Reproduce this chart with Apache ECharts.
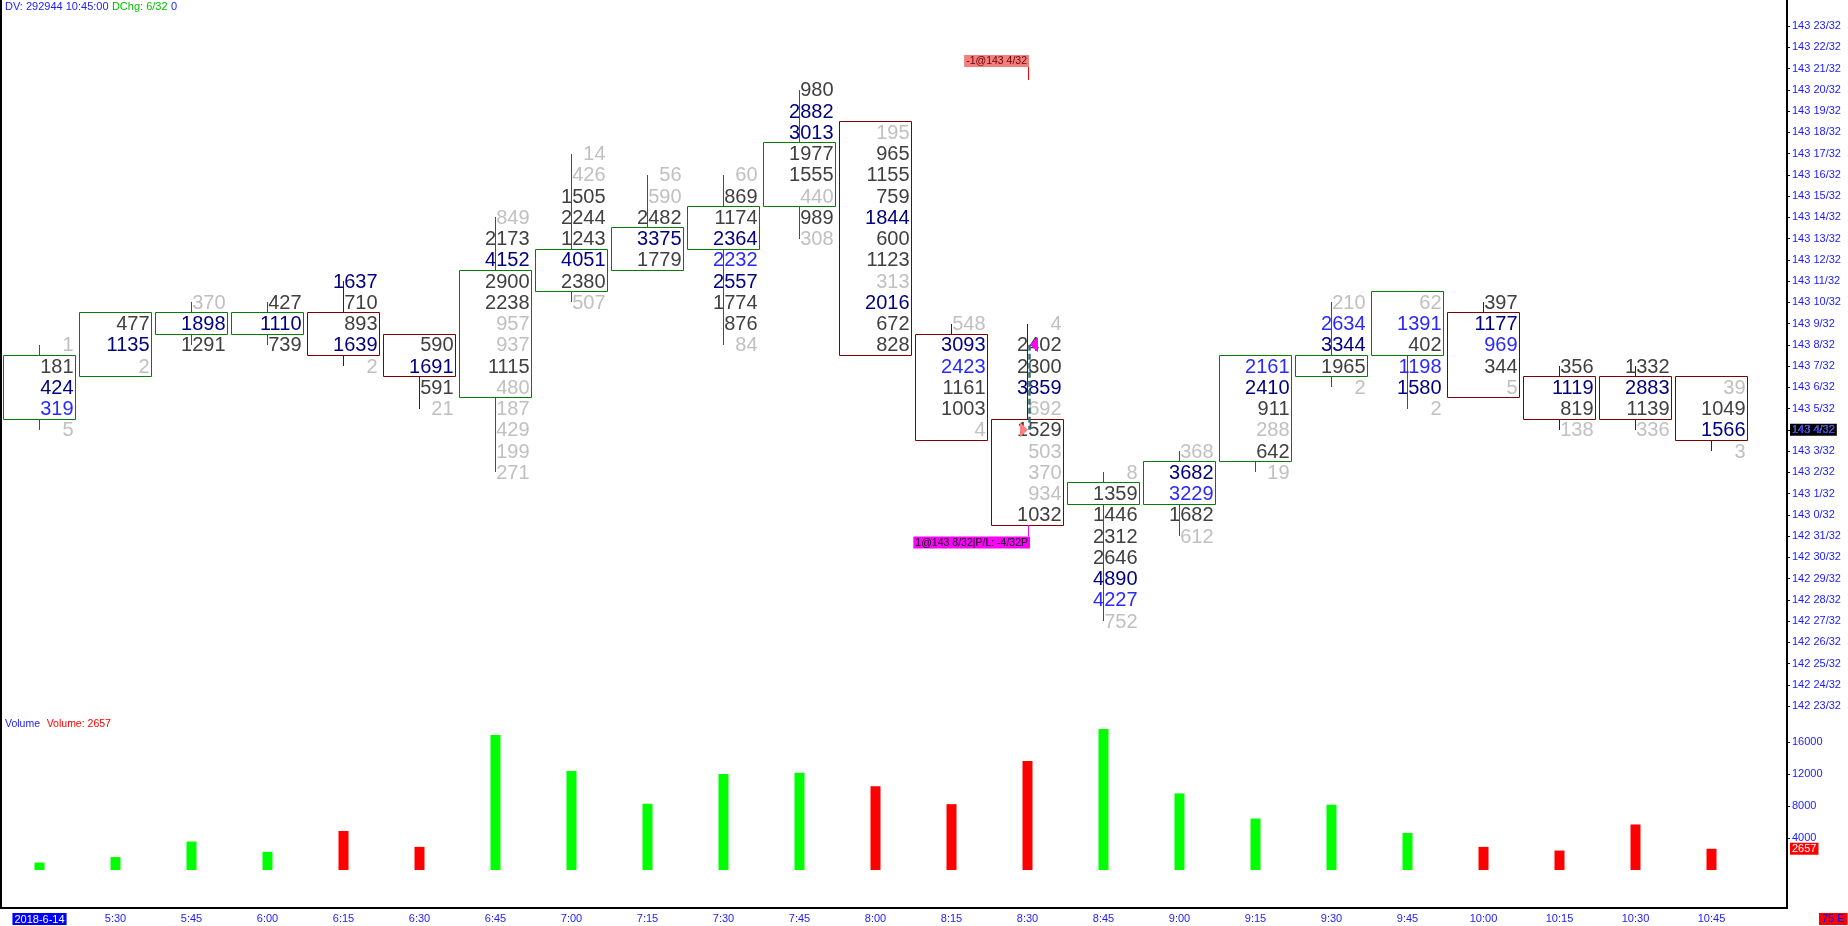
<!DOCTYPE html>
<html><head><meta charset="utf-8">
<script src="https://cdn.jsdelivr.net/npm/echarts@6/dist/echarts.min.js"></script>
<style>html,body{margin:0;padding:0;background:#fff;}#c{width:1848px;height:926px;}</style>
</head><body><div id="c"></div>
<script>
// ---------- DATA ----------
const times = ['2018-6-14','5:30','5:45','6:00','6:15','6:30','6:45','7:00','7:15','7:30','7:45','8:00',
  '8:15','8:30','8:45','9:00','9:15','9:30','9:45','10:00','10:15','10:30','10:45'];
// prices in 32nds above 143 0/32
const opens  = [5,7,9,9,9,8,6,11,12,13,15,18,8,4,1,1,3,7,8,9,6,6,6];
const closes = [7,9,9,9,8,7,11,12,13,14,17,8,4,0,1,2,7,7,10,6,5,5,4];
const highs  = [8,9,10,10,11,8,14,17,16,16,20,18,9,9,2,3,7,10,10,10,7,7,6];
const lows   = [4,7,8,8,7,5,2,10,12,8,13,8,4,0,-5,-1,2,6,5,6,4,4,3];
// footprint volume per price level, from the high down to the low
const footVols = [
  [1,181,424,319,5],
  [477,1135,2],
  [370,1898,1291],
  [427,1110,739],
  [1637,710,893,1639,2],
  [590,1691,591,21],
  [849,2173,4152,2900,2238,957,937,1115,480,187,429,199,271],
  [14,426,1505,2244,1243,4051,2380,507],
  [56,590,2482,3375,1779],
  [60,869,1174,2364,2232,2557,1774,876,84],
  [980,2882,3013,1977,1555,440,989,308],
  [195,965,1155,759,1844,600,1123,313,2016,672,828],
  [548,3093,2423,1161,1003,4],
  [4,2402,2300,3859,692,1529,503,370,934,1032],
  [8,1359,1446,2312,2646,4890,4227,752],
  [368,3682,3229,1682,612],
  [2161,2410,911,288,642,19],
  [210,2634,3344,1965,2],
  [62,1391,402,1198,1580,2],
  [397,1177,969,344,5],
  [356,1119,819,138],
  [1332,2883,1139,336],
  [39,1049,1566,3]
];
// colour class of each footprint number: g = grey, k = dark grey, n = navy, b = blue
const footCls = ['gknbg','kng','gnk','knk','nkkng','knkg','gknkkggkggggg','ggkkknkg','ggknk','gkknbnkkg',
  'knnkkgkg','gkkknkkgnkk','gnbkkg','gkkngkgggk','gkkkknbg','gnbkg','bnkgkg','gbnkg','gbkbng','knbkg','knkg','knkg','gkng'];
const volumes = [930,1614,3559,2276,4881,2893,16887,12370,8282,11990,12144,10470,8232,13625,17640,9573,6431,8155,4635,2892,2432,5690,2657];
const priceLevels = [23,22,21,20,19,18,17,16,15,14,13,12,11,10,9,8,7,6,5,4,3,2,1,0,-1,-2,-3,-4,-5,-6,-7,-8,-9];
const priceLabels = ['143 23/32','143 22/32','143 21/32','143 20/32','143 19/32','143 18/32','143 17/32','143 16/32',
  '143 15/32','143 14/32','143 13/32','143 12/32','143 11/32','143 10/32','143 9/32','143 8/32','143 7/32','143 6/32',
  '143 5/32','143 4/32','143 3/32','143 2/32','143 1/32','143 0/32','142 31/32','142 30/32','142 29/32','142 28/32',
  '142 27/32','142 26/32','142 25/32','142 24/32','142 23/32'];
const volTicks = [4000,8000,12000,16000];
const tradeBar = 13, sellPrice = 4, buyPrice = 8;
const sellLabel = '-1@143 4/32';
const buyLabel = '1@143 8/32|P/L: -4/32P';
const headerDV = 'DV: 292944 10:45:00', headerChg = 'DChg: 6/32', headerTail = '0';

// ---------- CHART ----------
const FONT = '"Liberation Sans", Arial, sans-serif';
const clsColors = ['#c0c0c0','#404040','#000080','#2a2aff'];
const AXC = '#1a1aff';
const chart = echarts.init(document.getElementById('c'));
const cr = v => Math.round(v - 0.5) + 0.5;

const candleData = times.map((t,i)=>[i, opens[i], closes[i], lows[i], highs[i]]);
const cellData = [];
footVols.forEach((vals,i)=>vals.forEach((v,k)=>cellData.push([i, highs[i]-k, v, 'gknb'.indexOf(footCls[i][k])])));
const bodyLow13 = Math.min(opens[tradeBar], closes[tradeBar]) - 0.5;

function renderCandle(params, api){
  const i=api.value(0), o=api.value(1), c=api.value(2), lo=api.value(3), hi=api.value(4);
  const col = c>=o ? '#008000' : '#800000';
  const pt = api.coord([i, Math.max(o,c)+0.5]), pb = api.coord([i, Math.min(o,c)-0.5]);
  const ph = api.coord([i, hi]), pl = api.coord([i, lo]);
  const half = api.size([1,0])[0]/2 - 2;
  const x = cr(pt[0]);
  const yt = cr(pt[1]), yb = cr(pb[1]);
  const ch = [];
  if (ph[1] < pt[1]-1) ch.push({type:'line', shape:{x1:x,y1:Math.round(ph[1]),x2:x,y2:yt}, style:{stroke:col,lineWidth:1}});
  if (pl[1] > pb[1]+1) ch.push({type:'line', shape:{x1:x,y1:yb,x2:x,y2:Math.round(pl[1])}, style:{stroke:col,lineWidth:1}});
  ch.push({type:'rect', shape:{x:x-half, y:yt, width:half*2, height:yb-yt}, style:{fill:'none', stroke:col, lineWidth:1}});
  return {type:'group', children:ch};
}
function renderCell(params, api){
  const p = api.coord([api.value(0), api.value(1)]);
  const half = api.size([1,0])[0]/2;
  return {type:'text', style:{text:String(api.value(2)), x:p[0]+half-4, y:p[1]+1, fill:clsColors[api.value(3)],
    font:'20px '+FONT, align:'right', verticalAlign:'middle'}};
}
function renderTrade(params, api){
  const i=api.value(0);
  const ps = api.coord([i, api.value(1)]), pbuy = api.coord([i, api.value(2)]), pLow = api.coord([i, api.value(3)]);
  const pTop = api.coord([i, 21.35]);
  const c = ps[0];
  return {type:'group', children:[
    {type:'line', shape:{x1:c+2,y1:pbuy[1],x2:c+2,y2:ps[1]}, style:{stroke:'#3d7272', lineWidth:2.5, lineDash:[6,3]}},
    {type:'polygon', shape:{points:[[c+2.5,pbuy[1]],[c+10.5,pbuy[1]-7.5],[c+10.5,pbuy[1]+7.5]]}, style:{fill:'#ff00ff'}},
    {type:'polygon', shape:{points:[[c+0.5,ps[1]],[c-7.5,ps[1]-7.5],[c-7.5,ps[1]+7.5]]}, style:{fill:'#ff8080'}},
    {type:'text', style:{text:sellLabel, x:c+1.5, y:pTop[1], align:'right', verticalAlign:'middle', fill:'#700000',
      backgroundColor:'#f08080', padding:[1,2,0,2], font:'10.5px '+FONT}},
    {type:'line', shape:{x1:cr(c+1),y1:pTop[1]+6,x2:cr(c+1),y2:pTop[1]+19}, style:{stroke:'#ff0000', lineWidth:1}},
    {type:'line', shape:{x1:cr(c+1),y1:pLow[1],x2:cr(c+1),y2:pLow[1]+11}, style:{stroke:'#ff00ff', lineWidth:1}},
    {type:'text', style:{text:buyLabel, x:c+2.5, y:pLow[1]+11, align:'right', verticalAlign:'top', fill:'#000',
      backgroundColor:'#ff00ff', padding:[1,2,0,2], font:'10.5px '+FONT}}
  ]};
}

const option = {
  animation:false,
  backgroundColor:'#fff',
  grid:[{left:1.5, width:1748, top:4.75, height:701.25},{left:1.5, width:1748, top:710, height:160}],
  xAxis:[
    {type:'category', gridIndex:0, data:times, show:false},
    {type:'category', gridIndex:1, data:times, axisLine:{show:false}, axisTick:{show:false},
      axisLabel:{margin:43, fontSize:11, fontFamily:FONT, color:AXC, interval:0,
        formatter:(v,idx)=> idx===0 ? '{d|'+v+'}' : v,
        rich:{d:{backgroundColor:'#0000ff', color:'#fff', padding:[1,2,0,2], fontSize:11, fontFamily:FONT}}}}
  ],
  yAxis:[
    {type:'value', gridIndex:0, position:'right', offset:37.5, min:-9, max:24, interval:1,
      splitLine:{show:false}, axisLine:{show:false},
      axisTick:{show:true, length:3, inside:false, lineStyle:{color:'#000'}, customValues:priceLevels},
      axisLabel:{margin:5, fontSize:11, fontFamily:FONT, color:AXC, customValues:priceLevels,
        formatter:v=>{const k=priceLevels.indexOf(v); return k<0?'':priceLabels[k];}}},
    {type:'value', gridIndex:1, position:'right', offset:37.5, min:0, max:20000, interval:4000,
      splitLine:{show:false}, axisLine:{show:false},
      axisTick:{show:true, length:3, inside:false, lineStyle:{color:'#000'}, customValues:volTicks},
      axisLabel:{margin:5, fontSize:11, fontFamily:FONT, color:AXC, customValues:volTicks,
        formatter:v=> volTicks.indexOf(v)<0 ? '' : String(v)}}
  ],
  series:[
    {type:'custom', xAxisIndex:0, yAxisIndex:0, data:candleData, renderItem:renderCandle, encode:{x:0,y:[1,2,3,4]}, z:2},
    {type:'custom', xAxisIndex:0, yAxisIndex:0, data:cellData, renderItem:renderCell, encode:{x:0,y:1}, z:3},
    {type:'custom', xAxisIndex:0, yAxisIndex:0, data:[[tradeBar, sellPrice, buyPrice, bodyLow13]], renderItem:renderTrade, encode:{x:0,y:[1,2]}, z:4},
    {type:'bar', xAxisIndex:1, yAxisIndex:1, barWidth:10,
      data:volumes.map((v,i)=>({value:v, itemStyle:{color: closes[i]>=opens[i] ? '#00ff00' : '#ff0000'}}))}
  ]
};
chart.setOption(option);

const yLast = chart.convertToPixel({yAxisIndex:0}, closes[closes.length-1]);
const yVol = chart.convertToPixel({yAxisIndex:1}, volumes[volumes.length-1]);
const lastLabel = priceLabels[priceLevels.indexOf(closes[closes.length-1])];
chart.setOption({graphic:[
  {type:'line', shape:{x1:1,y1:0,x2:1,y2:909}, style:{stroke:'#000', lineWidth:2}, silent:true},
  {type:'line', shape:{x1:0,y1:908,x2:1788,y2:908}, style:{stroke:'#000', lineWidth:2}, silent:true},
  {type:'line', shape:{x1:1787,y1:0,x2:1787,y2:909}, style:{stroke:'#000', lineWidth:2}, silent:true},
  {type:'text', x:5, y:7, style:{text:'{a|'+headerDV+'} {g|'+headerChg+'} {a|'+headerTail+'}', verticalAlign:'middle',
    rich:{a:{fill:'#1a1aff', fontSize:11, fontFamily:FONT}, g:{fill:'#00c000', fontSize:11, fontFamily:FONT}}}},
  {type:'text', x:5, y:724, style:{text:'{a|Volume}  {r|Volume: '+volumes[volumes.length-1]+'}', verticalAlign:'middle',
    rich:{a:{fill:'#1a1aff', fontSize:10.5, fontFamily:FONT}, r:{fill:'#ff0000', fontSize:10.5, fontFamily:FONT}}}},
  {type:'text', x:1790, y:yLast, style:{text:lastLabel, verticalAlign:'middle', fill:'#fff', backgroundColor:'#000',
    padding:[1,2,0,2], font:'11px '+FONT}},
  {type:'text', x:1790, y:yVol, style:{text:String(volumes[volumes.length-1]), verticalAlign:'middle', fill:'#fff', backgroundColor:'#ff0000',
    padding:[1,2,0,2], font:'11px '+FONT}},
  {type:'text', x:1819, y:919, style:{text:'75 E', verticalAlign:'middle', fill:'#0000ff', backgroundColor:'#ff0000',
    padding:[1,3,0,3], font:'11px '+FONT}}
]});
</script>
</body></html>
